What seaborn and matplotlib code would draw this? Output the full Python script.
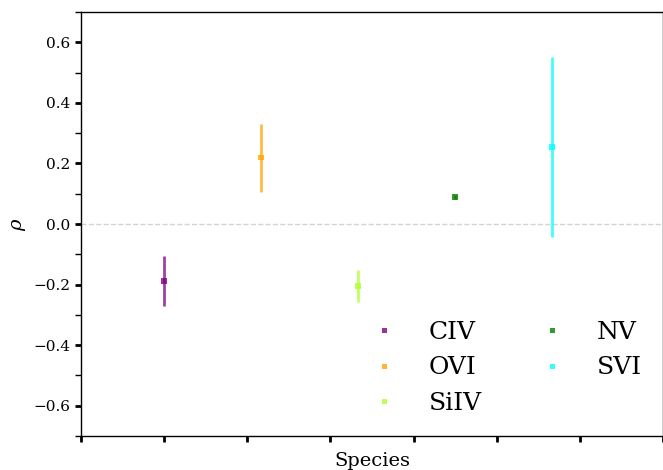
import matplotlib
matplotlib.use("Agg")
import matplotlib.pyplot as plt
import seaborn as sns
import numpy as np
import pandas as pd
from matplotlib.ticker import MultipleLocator

species = ["CIV", "OVI", "SiIV", "NV", "SVI"]
xpos = [1.0, 2.167, 3.333, 4.5, 5.667]
rho = [-0.189, 0.219, -0.205, 0.089, 0.255]
err_low = [0.083, 0.113, 0.053, 0.007, 0.298]
err_high = [0.083, 0.112, 0.053, 0.007, 0.298]
colors = ["purple", "orange", "greenyellow", "green", "cyan"]

sns.set_style("ticks")
plt.rcParams["font.family"] = ["DejaVu Serif"]
plt.rcParams["mathtext.fontset"] = "dejavuserif"
plt.rcParams["text.color"] = "black"
plt.rcParams["axes.labelcolor"] = "black"
plt.rcParams["xtick.color"] = "black"
plt.rcParams["ytick.color"] = "black"
plt.rcParams["axes.edgecolor"] = "black"

df = pd.DataFrame({"species": species, "x": xpos, "rho": rho})

fig = plt.figure(figsize=(6.63, 4.70), dpi=100)
ax = fig.add_axes([81/663, 34/470, 582/663, 424/470])

ax.axhline(0, color="lightgrey", ls="--", lw=1, zorder=0)
for i, s in enumerate(species):
    ax.errorbar(xpos[i], rho[i], yerr=[[err_low[i]], [err_high[i]]], fmt="none",
                ecolor=colors[i], elinewidth=2, alpha=0.75, zorder=2)
sns.scatterplot(data=df, x="x", y="rho", hue="species", palette=colors,
                marker="s", s=16, alpha=0.8, linewidth=0, ax=ax, zorder=3)

ax.set_xlim(0, 7)
ax.set_ylim(-0.7, 0.7)
ax.set_xticks(np.arange(0, 8))
ax.set_xticklabels([])
ax.yaxis.set_major_locator(MultipleLocator(0.2))
ax.yaxis.set_minor_locator(MultipleLocator(0.1))
ax.tick_params(axis="both", which="major", length=4, width=2, direction="out", labelsize=11)
ax.tick_params(axis="y", which="minor", length=4, width=1)
for sp in ax.spines.values():
    sp.set_linewidth(1)
    sp.set_color("black")
    sp.set_visible(True)
ax.set_xlabel("Species", fontsize=14)
ax.set_ylabel(r"$\rho$", fontsize=14)

leg = ax.legend(loc="lower right", ncol=2, fontsize=18, frameon=False,
                handletextpad=0.8, columnspacing=1.8, markerscale=0.9,
                borderaxespad=0.45)
fig.savefig("out.png", dpi=100)
